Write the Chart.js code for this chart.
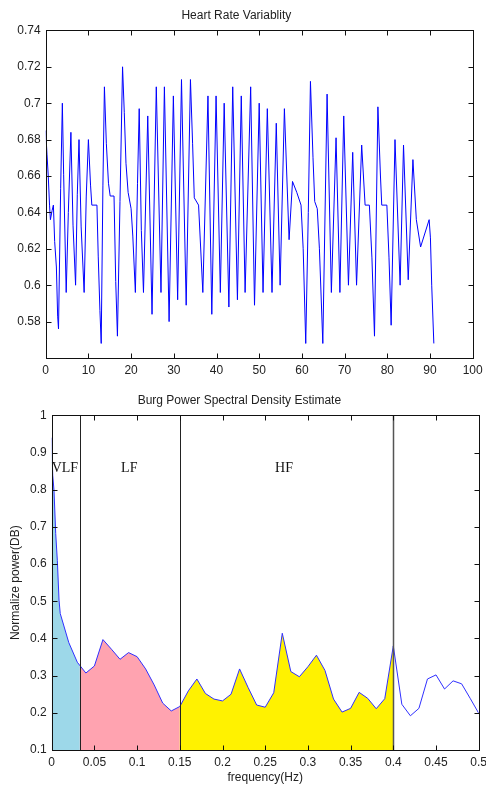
<!DOCTYPE html>
<html>
<head>
<meta charset="utf-8">
<script src="https://cdn.jsdelivr.net/npm/chart.js@4.4.1/dist/chart.umd.min.js"></script>
<style>
  body { margin: 0; background: #fff; }
  canvas { position: absolute; left: 0; }
  #hrvChart { top: 0; }
  #psdChart { top: 385px; }
</style>
</head>
<body>
<canvas id="hrvChart" width="486" height="385"></canvas>
<canvas id="psdChart" width="486" height="400"></canvas>
<script>
// RR series (time in s, interval in s)
const hrvTime = [0, 0.3, 0.6, 0.9, 1.1, 1.5, 1.8, 2.1, 2.5, 2.8, 3.0, 3.5, 3.9, 4.2, 4.8,
  5.3, 5.9, 6.4, 7.0, 7.4, 7.8, 8.3, 9.0, 9.5, 10.0, 10.5, 10.8, 12.0, 12.3, 12.7, 13.0,
  13.4, 13.75, 14.2, 14.7, 15.1, 16.0, 16.4, 16.8, 17.4, 18.0, 18.4, 18.8, 19.3, 20.0,
  20.4, 21.0, 21.5, 21.9, 22.4, 22.9, 23.9, 24.9, 25.9, 27.0, 27.8, 28.9, 29.9, 30.9,
  31.8, 32.9, 33.9, 34.4, 34.8, 35.8, 36.8, 38.0, 38.9, 39.9, 40.9, 41.8, 42.9, 43.8,
  44.9, 45.8, 46.7, 48.0, 48.9, 50.0, 50.9, 51.9, 53.0, 54.0, 54.9, 55.9, 57.0, 57.8,
  58.8, 59.8, 60.3, 60.9, 61.5, 62.0, 62.6, 63.0, 63.6, 64.1, 64.9, 65.9, 66.9, 68.0,
  68.9, 69.8, 70.9, 71.9, 72.8, 74.0, 74.8, 75.8, 76.4, 77.0, 77.8, 78.4, 78.7, 79.9,
  80.4, 80.9, 81.8, 83.0, 83.8, 84.9, 86.0, 86.8, 87.8, 89.8, 90.1, 90.4, 90.9];
const hrvRR = [0.685, 0.672, 0.660, 0.644, 0.636, 0.641, 0.644, 0.624, 0.610, 0.583, 0.576, 0.653, 0.700, 0.661, 0.596,
  0.640, 0.684, 0.633, 0.600, 0.650, 0.680, 0.632, 0.596, 0.649, 0.680, 0.655, 0.644, 0.644, 0.616, 0.586, 0.568,
  0.655, 0.709, 0.678, 0.656, 0.649, 0.649, 0.602, 0.572, 0.646, 0.720, 0.695, 0.667, 0.651, 0.642,
  0.627, 0.596, 0.656, 0.697, 0.630, 0.596, 0.693, 0.584, 0.709, 0.596, 0.709, 0.580, 0.704, 0.592,
  0.713, 0.589, 0.713, 0.678, 0.648, 0.644, 0.596, 0.704, 0.584, 0.704, 0.596, 0.700, 0.588, 0.709,
  0.592, 0.704, 0.596, 0.709, 0.589, 0.700, 0.596, 0.697, 0.596, 0.689, 0.600, 0.697, 0.625, 0.657,
  0.651, 0.644, 0.620, 0.568, 0.640, 0.712, 0.670, 0.646, 0.642, 0.620, 0.568, 0.705, 0.596, 0.681,
  0.596, 0.693, 0.600, 0.673, 0.600, 0.677, 0.644, 0.644, 0.615, 0.572, 0.698, 0.660, 0.644, 0.644,
  0.615, 0.578, 0.680, 0.600, 0.677, 0.603, 0.669, 0.636, 0.621, 0.636, 0.626, 0.600, 0.568];

// Burg PSD
const psdFreq = [0, 0.0012, 0.0027, 0.0047, 0.0066, 0.0086, 0.01, 0.02, 0.03, 0.04, 0.05,
  0.06, 0.07, 0.08, 0.09, 0.10, 0.11, 0.12, 0.13, 0.14, 0.15, 0.16, 0.17, 0.18, 0.19, 0.20,
  0.21, 0.22, 0.23, 0.24, 0.25, 0.26, 0.27, 0.28, 0.29, 0.30, 0.31, 0.32, 0.33, 0.34, 0.35,
  0.36, 0.37, 0.38, 0.39, 0.40, 0.41, 0.42, 0.43, 0.44, 0.45, 0.46, 0.47, 0.48, 0.49, 0.50];
const psdPower = [0.940, 0.839, 0.798, 0.682, 0.610, 0.503, 0.467, 0.389, 0.336, 0.307, 0.326,
  0.397, 0.371, 0.344, 0.362, 0.351, 0.318, 0.275, 0.226, 0.205, 0.217, 0.259, 0.291, 0.252, 0.237, 0.232,
  0.250, 0.318, 0.268, 0.221, 0.215, 0.254, 0.414, 0.311, 0.297, 0.324, 0.355, 0.314, 0.237, 0.202, 0.212,
  0.255, 0.239, 0.211, 0.238, 0.380, 0.223, 0.192, 0.212, 0.291, 0.302, 0.264, 0.286, 0.278, 0.239, 0.199];

const bandEdges = [0, 0.033, 0.15, 0.4];
const bandColors = ['#9dd8e9', '#ffa3b0', '#fff200'];
const bandNames = ['VLF', 'LF', 'HF'];
const bandLabelX = [0, 0.0908, 0.272];
const bandLabelY = 0.848;

const font = { family: "'Liberation Sans', Arial, sans-serif", size: 12, weight: 'normal' };
const textColor = '#222';

// matlab style box with inward ticks on all four sides
const boxTicks = {
  id: 'boxTicks',
  afterDraw(chart) {
    const { ctx, chartArea: a, scales: { x, y } } = chart;
    const L = Math.round(a.left) + 0.5, R = Math.round(a.right) + 0.5;
    const T = Math.round(a.top) + 0.5, B = Math.round(a.bottom) + 0.5;
    ctx.save();
    ctx.strokeStyle = '#111';
    ctx.lineWidth = 1;
    ctx.beginPath();
    x.ticks.forEach(t => {
      const px = Math.round(x.getPixelForValue(t.value)) + 0.5;
      ctx.moveTo(px, B); ctx.lineTo(px, B - 5);
      ctx.moveTo(px, T); ctx.lineTo(px, T + 5);
    });
    y.ticks.forEach(t => {
      const py = Math.round(y.getPixelForValue(t.value)) + 0.5;
      ctx.moveTo(L, py); ctx.lineTo(L + 5, py);
      ctx.moveTo(R, py); ctx.lineTo(R - 5, py);
    });
    ctx.stroke();
    ctx.strokeRect(L, T, R - L, B - T);
    ctx.restore();
  }
};

// coloured frequency bands under the PSD curve
const bandFill = {
  id: 'bandFill',
  beforeDatasetsDraw(chart) {
    const { ctx, chartArea: a, scales: { x, y } } = chart;
    const pts = chart.getDatasetMeta(0).data;
    const base = y.getPixelForValue(y.min);
    for (let i = 0; i < bandColors.length; i++) {
      const x0 = x.getPixelForValue(bandEdges[i]);
      const x1 = x.getPixelForValue(bandEdges[i + 1]);
      ctx.save();
      ctx.beginPath();
      ctx.rect(x0, a.top, x1 - x0, a.bottom - a.top);
      ctx.clip();
      ctx.beginPath();
      ctx.moveTo(pts[0].x, base);
      pts.forEach(p => ctx.lineTo(p.x, p.y));
      ctx.lineTo(pts[pts.length - 1].x, base);
      ctx.closePath();
      ctx.fillStyle = bandColors[i];
      ctx.fill();
      ctx.restore();
    }
  },
  afterDatasetsDraw(chart) {
    const { ctx, chartArea: a, scales: { x, y } } = chart;
    ctx.save();
    bandEdges.slice(1).forEach((f, i) => {
      const px = Math.round(x.getPixelForValue(f)) + 0.5;
      ctx.strokeStyle = i === 2 ? '#555' : '#222';
      ctx.lineWidth = i === 2 ? 1.5 : 1;
      ctx.beginPath();
      ctx.moveTo(px, a.top);
      ctx.lineTo(px, a.bottom);
      ctx.stroke();
    });
    ctx.fillStyle = '#111';
    ctx.font = "14px 'Liberation Serif', 'Times New Roman', serif";
    ctx.textBaseline = 'alphabetic';
    bandNames.forEach((n, i) => {
      ctx.textAlign = i === 0 ? 'left' : 'center';
      ctx.fillText(n, x.getPixelForValue(bandLabelX[i]), y.getPixelForValue(bandLabelY));
    });
    ctx.restore();
  }
};

const fmt = v => String(parseFloat(Number(v).toFixed(3)));

const hrvChart = new Chart(document.getElementById('hrvChart'), {
  type: 'line',
  data: {
    datasets: [{
      data: hrvTime.map((t, i) => ({ x: t, y: hrvRR[i] })),
      borderColor: '#0000ff',
      borderWidth: 1,
      pointRadius: 0,
      tension: 0,
      fill: false
    }]
  },
  options: {
    responsive: false,
    animation: false,
    layout: { padding: { left: 0, right: 13.3, top: 0, bottom: 0 } },
    plugins: {
      legend: { display: false },
      tooltip: { enabled: false },
      title: {
        display: true,
        text: 'Heart Rate Variablity',
        color: textColor,
        font: font,
        padding: { top: 8, bottom: 8 }
      }
    },
    scales: {
      x: {
        type: 'linear',
        min: 0, max: 100,
        grid: { display: false, drawTicks: false },
        border: { display: false },
        ticks: { stepSize: 10, padding: 5, color: textColor, font: font, maxRotation: 0, autoSkip: false, callback: fmt },
        afterFit(s) { s.height = 27; s.paddingLeft = 0; s.paddingRight = 0; }
      },
      y: {
        min: 0.56, max: 0.74,
        grid: { display: false, drawTicks: false },
        border: { display: false },
        ticks: {
          stepSize: 0.02, padding: 5, color: textColor, font: font, autoSkip: false,
          callback: v => (v < 0.565 ? '' : fmt(v))
        },
        afterFit(s) { s.width = 45.7; s.paddingTop = 0; s.paddingBottom = 0; }
      }
    }
  },
  plugins: [boxTicks]
});

const psdChart = new Chart(document.getElementById('psdChart'), {
  type: 'line',
  data: {
    datasets: [{
      data: psdFreq.map((f, i) => ({ x: f, y: psdPower[i] })),
      borderColor: '#3030ff',
      borderWidth: 1,
      pointRadius: 0,
      tension: 0,
      fill: false
    }]
  },
  options: {
    responsive: false,
    animation: false,
    layout: { padding: { left: 0, right: 7.3, top: 0, bottom: 0 } },
    plugins: {
      legend: { display: false },
      tooltip: { enabled: false },
      title: {
        display: true,
        text: 'Burg Power Spectral Density Estimate',
        color: textColor,
        font: font,
        padding: { top: 8, bottom: 8 }
      }
    },
    scales: {
      x: {
        type: 'linear',
        min: 0, max: 0.5,
        title: { display: true, text: 'frequency(Hz)', color: textColor, font: font, padding: { top: 0, bottom: 0 } },
        grid: { display: false, drawTicks: false },
        border: { display: false },
        ticks: { stepSize: 0.05, padding: 5, color: textColor, font: font, maxRotation: 0, autoSkip: false, callback: fmt },
        afterFit(s) { s.height = 35; s.paddingLeft = 0; s.paddingRight = 0; }
      },
      y: {
        min: 0.1, max: 1,
        title: { display: true, text: 'Normalize power(DB)', color: textColor, font: font, padding: { top: 8, bottom: 0 } },
        grid: { display: false, drawTicks: false },
        border: { display: false },
        ticks: { stepSize: 0.1, padding: 5, color: textColor, font: font, autoSkip: false, callback: fmt },
        afterFit(s) { s.width = 51.7; s.paddingTop = 0; s.paddingBottom = 0; }
      }
    }
  },
  plugins: [bandFill, boxTicks]
});
</script>
</body>
</html>
